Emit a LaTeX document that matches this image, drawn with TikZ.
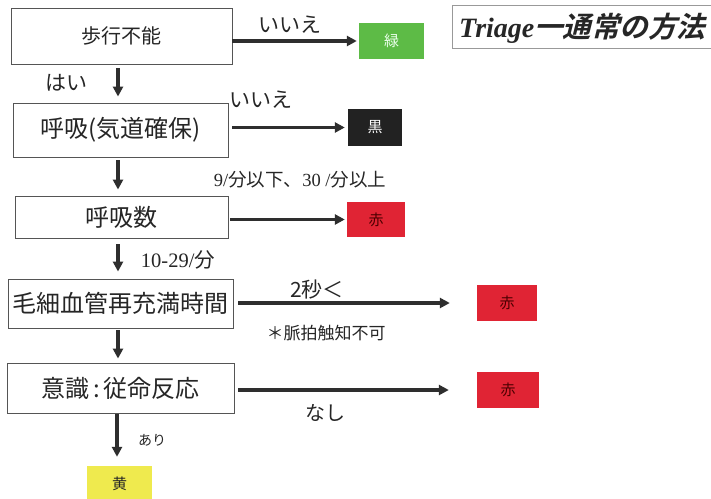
\documentclass[tikz,border=0pt]{standalone}
\usepackage{fontspec}
\setmainfont{Noto Sans CJK JP}
\newfontfamily\tms{Liberation Serif}
\newfontfamily\jpbi{Noto Sans CJK JP}[UprightFont=* Bold, FakeSlant=0.25]
\usetikzlibrary{arrows.meta}
\definecolor{boxline}{HTML}{555555}
\definecolor{arrc}{HTML}{2E2E2E}
\definecolor{cgreen}{HTML}{5DBB46}
\definecolor{cblack}{HTML}{222222}
\definecolor{cred}{HTML}{E02434}
\definecolor{cyellow}{HTML}{EFEA4E}
\tikzset{
  stepbox/.style={draw=boxline, line width=0.9pt, fill=white, inner sep=0pt, font=\fontsize{24}{24}\selectfont, text=black!85},
  tagbox/.style={inner sep=0pt, font=\fontsize{15}{15}\selectfont},
  arr/.style={draw=arrc, line width=3.2pt, -{Triangle[length=10pt,width=10pt]}},
  lbl/.style={inner sep=0pt, text=black!85},
}
\begin{document}
\begin{tikzpicture}[x=1pt,y=-1pt]
\useasboundingbox[fill=white] (0,0) rectangle (711,498);
% title
\draw[draw=black!40, line width=0.6pt] (720,5) -- (452,5) -- (452,48) -- (720,48);
\node[lbl, anchor=base west, text=black!85] (title) at (459,37)
  {{\tms\bfseries\itshape\fontsize{28}{28}\selectfont Triage}{\jpbi\fontsize{28.5}{28.5}\selectfont 一通常の方法}};
% step boxes
\node[stepbox, minimum width=221pt, minimum height=56pt, font=\fontsize{20}{20}\selectfont] (b1) at (121.5,36) {歩行不能};
\node[stepbox, minimum width=215pt, minimum height=54pt] (b2) at (120.5,130) {呼吸(気道確保)};
\node[stepbox, minimum width=213pt, minimum height=42pt] (b3) at (121.5,217) {呼吸数};
\node[stepbox, minimum width=225pt, minimum height=49pt] (b4) at (120.5,303.5) {毛細血管再充満時間};
\node[stepbox, minimum width=227pt, minimum height=50pt] (b5) at (120.5,388) {意識\,:\,従命反応};
% colour tags
\node[tagbox, fill=cgreen, minimum width=65pt, minimum height=36pt, text=white!92!green] (g) at (391.5,41) {緑};
\node[tagbox, fill=cblack, minimum width=54pt, minimum height=37pt, text=white] (k) at (375,127.5) {黒};
\node[tagbox, fill=cred, minimum width=58pt, minimum height=35pt, text=black!70!red] (r1) at (376,219.5) {赤};
\node[tagbox, fill=cred, minimum width=60pt, minimum height=36pt, text=black!70!red] (r2) at (507,303) {赤};
\node[tagbox, fill=cred, minimum width=62pt, minimum height=36pt, text=black!70!red] (r3) at (508,390) {赤};
\node[tagbox, fill=cyellow, minimum width=65pt, minimum height=36pt, text=black!85] (y) at (119.5,484) {黄};
% vertical arrows
\coordinate (ax) at (118,0);
\coordinate (ay) at (117,0);
\draw[arr, shorten <=4pt, shorten >=6pt] (b1.south -| ax) -- (b2.north -| ax);
\draw[arr, shorten <=3pt, shorten >=6pt] (b2.south -| ax) -- (b3.north -| ax);
\draw[arr, shorten <=6pt, shorten >=7pt] (b3.south -| ax) -- (b4.north -| ax);
\draw[arr, shorten <=2pt, shorten >=4pt] (b4.south -| ax) -- (b5.north -| ax);
\draw[arr, shorten <=1pt, shorten >=9pt] (b5.south -| ay) -- (y.north -| ay);
% horizontal arrows
\draw[arr, shorten >=2pt] (b1.east |- g.west) -- (g.west);
\draw[arr, shorten <=4pt, shorten >=3pt] (b2.east |- k.west) -- (k.west);
\draw[arr, shorten <=2pt, shorten >=2pt] (b3.east |- r1.west) -- (r1.west);
\draw[arr, shorten <=5pt, shorten >=27pt] (b4.east |- r2.west) -- (r2.west);
\draw[arr, shorten <=4pt, shorten >=28pt] (b5.east |- r3.west) -- (r3.west);
% labels
\node[lbl, font=\fontsize{21}{21}\selectfont] (l1) at (290,25) {いいえ};
\node[lbl, font=\fontsize{21}{21}\selectfont] (l2) at (261,100) {いいえ};
\node[lbl, font=\fontsize{21}{21}\selectfont] (l3) at (66,83) {はい};
\node[lbl, font=\fontsize{18.5}{18.5}\selectfont] (l4) at (300,180) {{\tms 9/}分以下、{\tms 30 /}分以上};
\node[lbl, font=\fontsize{20.5}{20.5}\selectfont] (l5) at (178,260) {{\tms 10-29/}分};
\node[lbl, font=\fontsize{21}{21}\selectfont] (l6) at (317,290) {2秒＜};
\node[lbl, font=\fontsize{17}{17}\selectfont] (l7) at (326,333) {＊脈拍触知不可};
\node[lbl, font=\fontsize{20}{20}\selectfont] (l8) at (325,413) {なし};
\node[lbl, font=\fontsize{14}{14}\selectfont] (l9) at (152,440) {あり};
\end{tikzpicture}
\end{document}
